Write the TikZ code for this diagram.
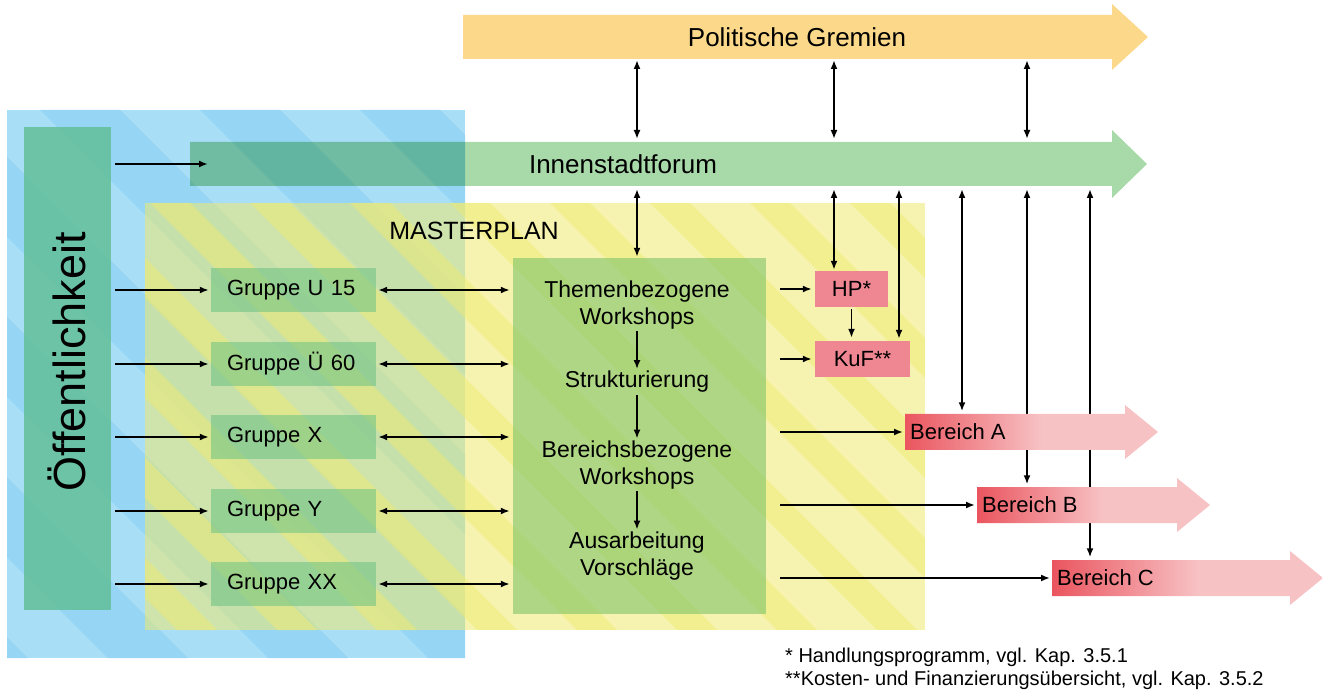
\documentclass[tikz,border=0pt]{standalone}
\usepackage{fontspec}
\setmainfont{Liberation Sans}
\usetikzlibrary{
  positioning,
  arrows.meta,
  backgrounds
}
\definecolor{blueback}{HTML}{A9DEF7}
\definecolor{bluestripe}{HTML}{96D5F3}
\definecolor{masteryellow}{HTML}{EEEA70}
\definecolor{gremien}{HTML}{FCD98A}
\definecolor{forum}{HTML}{A8D9A9}
\definecolor{oeffgreen}{HTML}{66C19E}
\definecolor{gruppegreen}{HTML}{72C585}
\definecolor{workgreen}{HTML}{8FCB72}
\definecolor{hpred}{HTML}{EE8792}
\definecolor{bereichred}{HTML}{E8424D}
\definecolor{bereichpink}{HTML}{F7C2C4}
\pgfdeclarehorizontalshading{bereichshade}{100bp}{color(0bp)=(bereichred); color(25bp)=(bereichred!85!bereichpink); color(52bp)=(bereichpink); color(100bp)=(bereichpink)}

\begin{document}
\begin{tikzpicture}[
  x=1pt, y=-1pt,
  gruppe/.style={fill=gruppegreen, fill opacity=0.6, text opacity=1, minimum height=44pt,
               text width=133pt, inner xsep=16pt, inner ysep=0pt, align=left,
               font=\fontsize{22}{26}\selectfont},
  worktext/.style={align=center, inner sep=2pt, font=\fontsize{23}{27}\selectfont},
  redbox/.style={fill=hpred, minimum height=36pt, inner sep=0pt, font=\fontsize{22}{26}\selectfont},
  bereich/.style={anchor=west, minimum height=37pt, inner xsep=5pt, inner ysep=0pt,
               font=\fontsize{22}{26}\selectfont},
  band/.style={font=\fontsize{26}{30}\selectfont},
  arr/.style={-{Latex[length=9pt, width=7pt]}, line width=1.8pt, black},
  dbl/.style={{Latex[length=9pt, width=7pt]}-{Latex[length=9pt, width=7pt]}, line width=1.8pt, black}
]
  \useasboundingbox (0,0) rectangle (1323,692);

  % Background: Oeffentlichkeit area with stripes
  \begin{scope}
    \clip (7,110) rectangle (465,658);
    \fill[blueback] (7,110) rectangle (465,658);
    \foreach \k in {-4,...,3}
      \fill[bluestripe] ({\k*160+40},110) -- ++(80,0) -- ++(548,548) -- ++(-80,0) -- cycle;
  \end{scope}

  % Background: masterplan area with stripes
  \begin{scope}
    \clip (145,203) rectangle (925,630);
    \fill[masteryellow, opacity=0.55] (145,203) rectangle (925,630);
    \foreach \k in {-5,...,8}
      \fill[masteryellow, opacity=0.5] ({\k*100+150},203) -- ++(40,0) -- ++(427,427) -- ++(-40,0) -- cycle;
  \end{scope}

  % Top bands
  \fill[gremien] (463,15) -- (1112,15) -- (1112,4) -- (1148,37) -- (1112,70) -- (1112,59) -- (463,59) -- cycle;
  \node[band] (gremientext) at (797,37) {Politische Gremien};
  \fill[forum, blend mode=multiply] (190,142) -- (1112,142) -- (1112,130) -- (1147,164) -- (1112,198) -- (1112,186) -- (190,186) -- cycle;
  \node[band] (forumtext) at (623,164) {Innenstadtforum};
  \coordinate (forumin) at (208,164);
  \coordinate (politS) at (0,60);
  \coordinate (forumN) at (0,139);
  \coordinate (forumS) at (0,189);

  \node[font=\fontsize{25}{30}\selectfont] (mplan) at (474,231) {MASTERPLAN};

  % Left bar
  \node[fill=oeffgreen, fill opacity=0.9, minimum width=87pt, minimum height=483pt, inner sep=0pt] (oeff) at (67.5,368.5) {};
  \node[rotate=90, font=\fontsize{45}{50}\selectfont] (oefftext) at (67,362) {Öffentlichkeit};

  % Groups
  \node[gruppe] (g1) at (293.5,290) {Gruppe U 15};
  \node[gruppe] (g2) at (293.5,364) {Gruppe Ü 60};
  \node[gruppe] (g3) at (293.5,437) {Gruppe X};
  \node[gruppe] (g4) at (293.5,511) {Gruppe Y};
  \node[gruppe] (g5) at (293.5,584) {Gruppe XX};

  % Workshop block
  \node[fill=workgreen, fill opacity=0.7, minimum width=253pt, minimum height=356pt, inner sep=0pt] (work) at (639.5,436) {};
  \node[worktext] (w1) at (637,305) {Themenbezogene\\Workshops};
  \node[worktext] (w2) at (637,382) {Strukturierung};
  \node[worktext] (w3) at (637,465) {Bereichsbezogene\\Workshops};
  \node[worktext] (w4) at (637,556) {Ausarbeitung\\Vorschläge};

  \draw[arr] (w1) -- (w2);
  \draw[arr] (w2) -- (w3);
  \draw[arr] (w3) -- (w4);

  % HP and KuF
  \node[redbox, minimum width=73pt] (hp) at (851.5,289) {HP*};
  \node[redbox, minimum width=95pt] (kuf) at (862.5,359) {KuF**};
  \draw[arr, shorten <=2pt, shorten >=3pt] (hp.south) -- (hp.south |- kuf.north);

  % Bereich arrows
  \shade[shading=bereichshade] (905,414) -- (1125,414) -- (1125,405) -- (1158,432) -- (1125,459) -- (1125,450) -- (905,450) -- cycle;
  \node[bereich] (ba) at (905,432) {Bereich A};
  \shade[shading=bereichshade] (977,487) -- (1177,487) -- (1177,478) -- (1210,505) -- (1177,532) -- (1177,523) -- (977,523) -- cycle;
  \node[bereich] (bb) at (977,505) {Bereich B};
  \shade[shading=bereichshade] (1052,560) -- (1290,560) -- (1290,551) -- (1323,578) -- (1290,605) -- (1290,596) -- (1052,596) -- cycle;
  \node[bereich] (bc) at (1052,578) {Bereich C};

  % Columns
  \coordinate (k1) at (637,0);
  \coordinate (k2) at (834,0);
  \coordinate (k3) at (899,0);
  \coordinate (k4) at (962,0);
  \coordinate (k5) at (1027,0);
  \coordinate (k6) at (1090,0);

  % Gremien <-> Forum
  \foreach \k in {k1,k2,k5}
    \draw[dbl] (\k |- politS) -- (\k |- forumN);

  % Forum <-> below
  \draw[dbl, shorten >=1pt] (k1 |- forumS) -- (k1 |- work.north);
  \draw[dbl, shorten >=1pt] (k2 |- forumS) -- (k2 |- hp.north);
  \draw[dbl, shorten >=2pt] (k3 |- forumS) -- (k3 |- kuf.north);
  \draw[dbl, shorten >=2pt] (k4 |- forumS) -- (k4 |- ba.north);
  \begin{scope}[on background layer]
    \draw[dbl, shorten >=2pt] (k5 |- forumS) -- (k5 |- bb.north);
    \draw[dbl, shorten >=2pt] (k6 |- forumS) -- (k6 |- bc.north);
  \end{scope}

  % Oeffentlichkeit -> forum and groups
  \draw[arr, shorten <=4pt] (oeff.east |- forumin) -- (forumin);
  \foreach \g in {g1,g2,g3,g4,g5}
    \draw[arr, shorten <=4pt, shorten >=2pt] (oeff.east |- \g.west) -- (\g.west);

  % Groups <-> workshops
  \foreach \g in {g1,g2,g3,g4,g5}
    \draw[dbl, shorten <=2pt, shorten >=3pt] (\g.east) -- (work.west |- \g.east);

  % Workshops -> results
  \draw[arr, shorten <=14pt, shorten >=3pt] (work.east |- hp.west) -- (hp.west);
  \draw[arr, shorten <=14pt, shorten >=3pt] (work.east |- kuf.west) -- (kuf.west);
  \draw[arr, shorten <=14pt, shorten >=2pt] (work.east |- ba.west) -- (ba.west);
  \draw[arr, shorten <=14pt, shorten >=2pt] (work.east |- bb.west) -- (bb.west);
  \draw[arr, shorten <=14pt, shorten >=2pt] (work.east |- bc.west) -- (bc.west);

  % Footnotes
  \node[anchor=west, inner sep=0pt, font=\fontsize{20}{24}\selectfont] (fn1) at (785,657) {* Handlungsprogramm, vgl. Kap. 3.5.1};
  \node[anchor=west, inner sep=0pt, font=\fontsize{20}{24}\selectfont] (fn2) at (785,680) {**Kosten- und Finanzierungsübersicht, vgl. Kap. 3.5.2};

\end{tikzpicture}
\end{document}
